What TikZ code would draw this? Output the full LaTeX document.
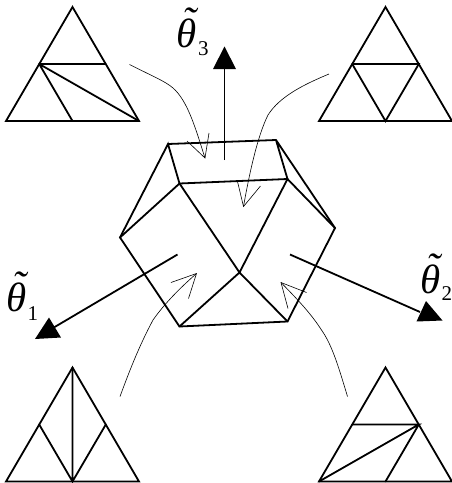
\documentclass[tikz,border=0pt]{standalone}
\usepackage{fontspec}
\setmainfont{Liberation Serif}
\tikzset{
  x=1pt,y=-1pt,
  edge/.style={line width=1.8pt,line join=miter,line cap=round},
  stem/.style={line width=1.8pt},
  head/.style={fill=black,draw=none},
  thin curve/.style={line width=0.6pt,line join=miter},
  lab/.style={inner sep=0pt,anchor=base west,font=\fontsize{41}{41}\selectfont\itshape},
  sub/.style={inner sep=0pt,anchor=base west,font=\fontsize{21}{21}\selectfont}
}
\newcommand{\tiltheta}{\rlap{\kern0.15em\raisebox{0.29em}{\char"02DC}}θ}
\begin{document}
\begin{tikzpicture}
\useasboundingbox (0,0) rectangle (452,483);
% polyhedron
\coordinate (A) at (168,144);
\coordinate (B) at (276,140);
\coordinate (C) at (179.5,183.5);
\coordinate (D) at (287.5,179);
\coordinate (E) at (120,237.5);
\coordinate (F) at (239.5,272.5);
\coordinate (G) at (179.5,326.5);
\coordinate (H) at (287.5,321.5);
\coordinate (I) at (335,228);
\draw[edge] (A)--(B)--(I)--(H)--(G)--(E)--(A)--(C)--(D)--(B);
\draw[edge] (E)--(C)--(F)--(D)--(I);
\draw[edge] (G)--(F)--(H);
% triangles
\foreach \n/\ox/\oy in {tl/6/7,tr/319/7,bl/6/367.5,br/319/367.5}{
  \coordinate (\n a) at (\ox+66.5,\oy);
  \coordinate (\n b) at (\ox,\oy+114);
  \coordinate (\n c) at (\ox+133,\oy+114);
  \coordinate (\n l) at (\ox+33.2,\oy+57);
  \coordinate (\n r) at (\ox+99.8,\oy+57);
  \coordinate (\n m) at (\ox+66.5,\oy+114);
  \draw[edge] (\n a)--(\n b)--(\n c)--cycle;
}
\draw[edge] (tll)--(tlr) (tll)--(tlm) (tll)--(tlc);
\draw[edge] (trl)--(trr)--(trm)--(trl);
\draw[edge] (bla)--(blm) (bll)--(blm)--(blr);
\draw[edge] (brl)--(brr)--(brb) (brr)--(brm);
% thick arrows
\coordinate (s3) at (224.5,160); \coordinate (e3) at (224.5,66);
\coordinate (s1) at (177.5,254.5); \coordinate (e1) at (53,328);
\coordinate (s2) at (290,254.5); \coordinate (e2) at (420,312);
\draw[stem] (s3)--(e3);
\draw[stem] (s1)--(e1);
\draw[stem] (s2)--(e2);
\fill[head] (224.5,46.5)--(213,69)--(236,69)--cycle;
\fill[head] (49,317.5)--(35,339)--(61,337.5)--cycle;
\fill[head] (426,301)--(416.5,321.5)--(442.5,320.5)--cycle;
% thin curved arrows
\coordinate (c1) at (129.5,64.5); \coordinate (t1) at (205,158);
\draw[thin curve] (c1)..controls (150,75) and (165,81)..(173,88)..controls (188,101) and (196,130)..(t1);
\draw[thin curve] (187,141)--(t1)--(209,133);
\coordinate (c2) at (329,74); \coordinate (t2) at (243.5,206.5);
\draw[thin curve] (c2)..controls (305,84) and (280,96)..(268,115)..controls (258,135) and (250,170)..(t2);
\draw[thin curve] (237.5,181.5)--(t2)--(260.5,186);
\coordinate (c3) at (120,396.5); \coordinate (t3) at (196.5,273.5);
\draw[thin curve] (c3)..controls (128,375) and (138,348)..(153,320)..controls (165,303) and (180,288)..(t3);
\draw[thin curve] (171,282.5)--(t3)--(188.5,298.5);
\coordinate (c4) at (347.5,396.5); \coordinate (t4) at (281,282.5);
\draw[thin curve] (c4)..controls (338,365) and (332,345)..(321.5,330)..controls (310,312) and (295,297)..(t4);
\draw[thin curve] (306.5,292.5)--(t4)--(288,308.5);
% labels
\node[lab] (l3) at (176,47) {\tiltheta};
\node[sub] (n3) at (198,55) {3};
\node[lab] (l1) at (6,311) {\tiltheta};
\node[sub] (n1) at (27.5,320.5) {1};
\node[lab] (l2) at (420,293) {\tiltheta};
\node[sub] (n2) at (441.5,300) {2};
\end{tikzpicture}
\end{document}
